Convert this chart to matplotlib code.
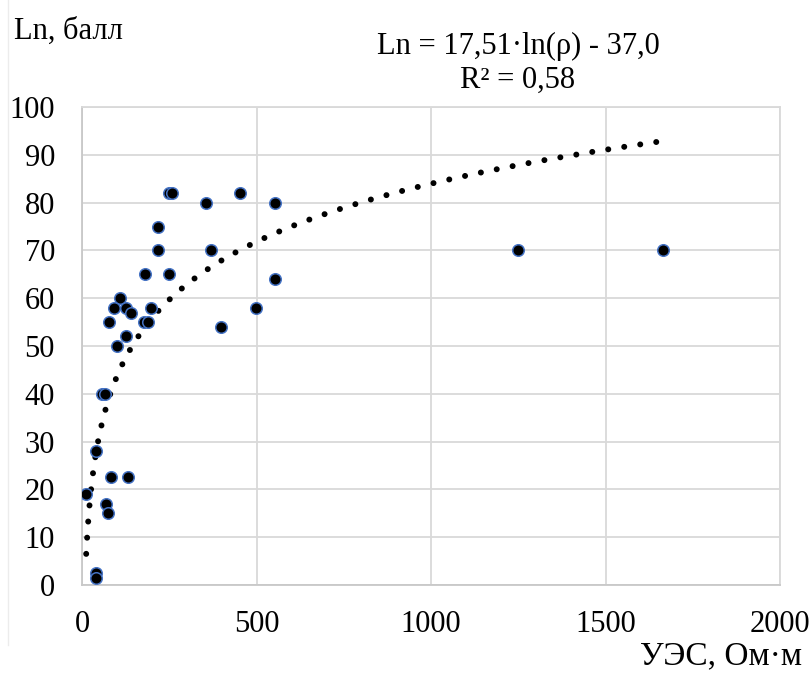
import numpy as np
import matplotlib
matplotlib.use('Agg')
import matplotlib.pyplot as plt
from matplotlib.lines import Line2D

plt.rcParams['font.family'] = ['Liberation Serif', 'DejaVu Serif']

# resistivity (Ohm*m) and Ln score
rho = [248, 258, 355, 453, 553, 219, 219, 370, 181, 249, 553, 108, 93, 127,
       141, 198, 498, 76, 179, 189, 398, 125, 100, 58, 65, 39, 82, 131, 11,
       70, 75, 39, 39, 1250, 1665]
ln_val = [82, 82, 80, 82, 80, 75, 70, 70, 65, 65, 64, 60, 58, 58,
          57, 58, 58, 55, 55, 55, 54, 52, 50, 40, 40, 28, 22.5, 22.5, 19,
          17, 15, 2.5, 1.5, 70, 70]

# log trendline from the equation on the chart
a, b = 17.51, -37.0
x_trend = np.linspace(12, 1655, 400)
y_trend = a * np.log(x_trend) + b

W, H = 811, 673
fig = plt.figure(figsize=(W / 100, H / 100), dpi=100)
ax = fig.add_axes([82 / W, 1 - 585 / H, (780 - 82) / W, (585 - 107) / H])

ax.plot(x_trend, y_trend, color='black', lw=4.3,
        linestyle=(0, (0.01, 2.7)), dash_capstyle='round', zorder=2)
ax.plot(rho, ln_val, 'o', ms=8.3, mfc='black', mec='#4472C4', mew=1.1,
        zorder=3)

ax.set_xlim(0, 2000)
ax.set_ylim(0, 100)
ax.set_xticks(np.arange(0, 2001, 500))
ax.set_yticks(np.arange(0, 101, 10))
ax.grid(True, color='#d9d9d9', lw=1.3)
ax.set_axisbelow(True)
for s in ax.spines.values():
    s.set_color('#d9d9d9')
    s.set_linewidth(1.3)
ax.spines['left'].set_color('#c8c8c8')
ax.spines['bottom'].set_color('#c8c8c8')
ax.tick_params(length=0, labelsize=22, colors='black')
ax.tick_params(axis='x', pad=18)
ax.tick_params(axis='y', pad=19.5)

fig.text(14 / W, 1 - 31 / H, 'Ln, балл', fontsize=22, ha='left', va='center')
fig.text(518 / W, 1 - 46 / H, 'Ln = 17,51·ln(ρ) - 37,0', fontsize=22,
         ha='center', va='center')
fig.text(518 / W, 1 - 80 / H, 'R² = 0,58', fontsize=22, ha='center', va='center')
fig.text(802 / W, 1 - 656 / H, 'УЭС, Ом·м', fontsize=24, ha='right', va='center')

# faint chart-area border on the left
fig.add_artist(Line2D([7.5 / W, 7.5 / W], [1 - 645 / H, 1], color='#ececec',
                      lw=1, transform=fig.transFigure))

fig.savefig('out.png', dpi=100)
